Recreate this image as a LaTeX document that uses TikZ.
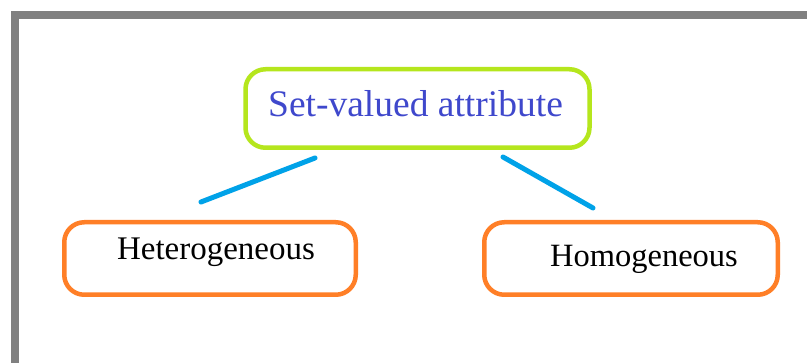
\documentclass[tikz,border=0pt]{standalone}
\usepackage{fontspec}
\setmainfont{Liberation Serif}
\definecolor{frame}{HTML}{808080}
\definecolor{lime}{HTML}{B5E61D}
\definecolor{orng}{HTML}{FF7F27}
\definecolor{indig}{HTML}{3F48CC}
\definecolor{turq}{HTML}{00A2E8}
\tikzset{
  box/.style={draw, line width=4.5pt, rounded corners=20pt, inner sep=0pt, outer sep=0pt, minimum width=#1},
  lbl/.style={anchor=base, inner sep=0pt},
  conn/.style={draw=turq, line width=5pt, line cap=round}
}
\begin{document}
\begin{tikzpicture}[x=1pt,y=-1pt]
\useasboundingbox (0,0) rectangle (807,363);
\fill[white] (0,0) rectangle (807,363);
% gray frame
\fill[frame] (11,11) rectangle (807,19);
\fill[frame] (11,11) rectangle (18.5,363);
% boxes
\node[box=344pt, draw=lime, minimum height=78.5pt] (top) at (417.5,108.5) {};
\node[box=291.5pt, draw=orng, minimum height=72.5pt] (het) at (210,258.5) {};
\node[box=293.5pt, draw=orng, minimum height=72.5pt] (hom) at (631,258.5) {};
% labels
\node[lbl, text=indig, font=\fontsize{37.5}{40}\selectfont] (toplbl) at (415.5,117) {Set-valued attribute};
\node[lbl, font=\fontsize{33}{36}\selectfont] (hetlbl) at (216,260) {Heterogeneous};
\node[lbl, font=\fontsize{32.5}{35}\selectfont] (homlbl) at (644,267) {Homogeneous};
% connectors
\coordinate (a1) at (315,158);
\coordinate (a2) at (201,202);
\coordinate (b1) at (503,157);
\coordinate (b2) at (593,208);
\draw[conn] (a1) -- (a2);
\draw[conn] (b1) -- (b2);
\end{tikzpicture}
\end{document}
